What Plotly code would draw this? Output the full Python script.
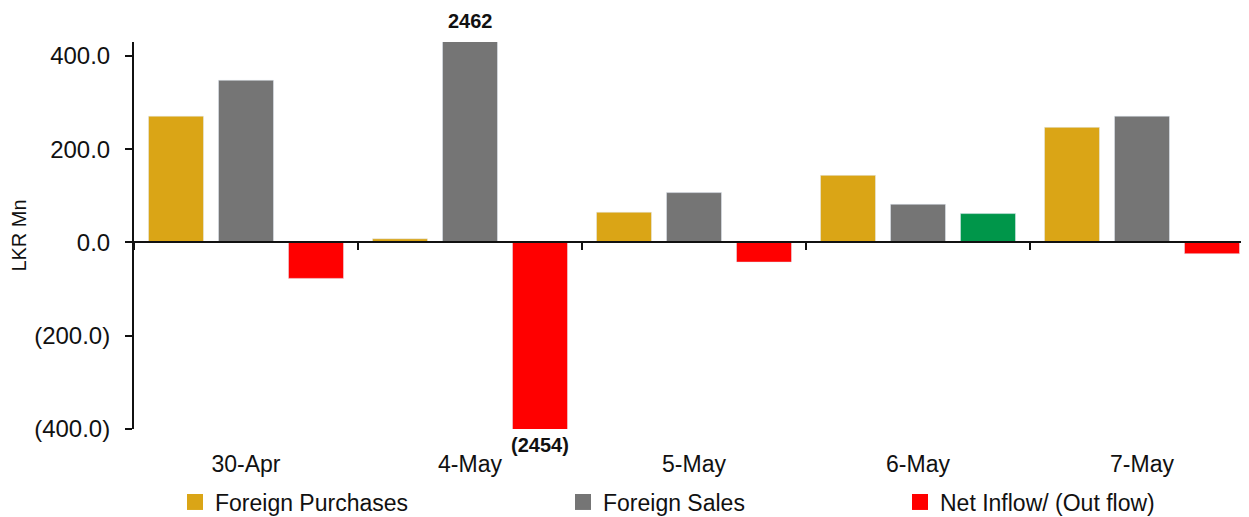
import plotly.graph_objects as go

dates = ["30-Apr", "4-May", "5-May", "6-May", "7-May"]
purchases = [271, 8, 65, 144, 247]
sales = [348, 2462, 107, 82, 271]
net = [-77, -2454, -42, 62, -24]

ytick_vals = [400, 200, 0, -200, -400]
ytick_text = ["400.0", "200.0", "0.0", "(200.0)", "(400.0)"]

C_PUR = "#DAA516"
C_SAL = "#757575"
C_NEG = "#FF0000"
C_POS = "#00964A"

Y_MIN, Y_MAX = -400, 430
OFF = 8  # page body margin
W, H = 1254 - OFF, 517 - OFF
ML, MR, MT = 134 - OFF, 0, 42 - OFF
PLOT_BOTTOM = 429 - OFF
MB = H - PLOT_BOTTOM
BARGAP = 0.0625
FONT = "Liberation Sans"

net_colors = [C_POS if v >= 0 else C_NEG for v in net]

fig = go.Figure()
fig.add_trace(go.Bar(x=dates, y=purchases, marker_color=C_PUR, showlegend=False, name="Foreign Purchases"))
fig.add_trace(go.Bar(x=dates, y=sales, marker_color=C_SAL, showlegend=False, name="Foreign Sales"))
fig.add_trace(go.Bar(x=dates, y=net, marker_color=net_colors, showlegend=False, name="Net Inflow/ (Out flow)"))

# zero-baseline axis helper (invisible)
fig.add_trace(go.Scatter(x=dates, y=[0] * len(dates), xaxis="x2", mode="markers",
                         marker=dict(opacity=0), showlegend=False, hoverinfo="skip"))

plot_w = W - ML - MR
plot_h = H - MT - MB
def px2paper(px):
    return (px - OFF - ML) / plot_w

legend_names = ["Foreign Purchases", "Foreign Sales", "Net Inflow/ (Out flow)"]
legend_colors = [C_PUR, C_SAL, C_NEG]
legend_ids = ["legend", "legend2", "legend3"]
legend_px = [175, 563, 900]
for nm, col, lid in zip(legend_names, legend_colors, legend_ids):
    fig.add_trace(go.Scatter(x=[None], y=[None], mode="markers", name=nm,
                             marker=dict(symbol="square", size=16, color=col),
                             legend=lid, showlegend=True))

legend_y = -((502 - OFF) - PLOT_BOTTOM) / plot_h
leg_common = dict(orientation="h", yanchor="middle", y=legend_y, xanchor="left",
                  font=dict(family=FONT, size=23, color="#111111"),
                  bgcolor="rgba(0,0,0,0)", itemwidth=30)
layout_legends = {}
for lid, lx in zip(legend_ids, legend_px):
    layout_legends[lid] = dict(leg_common, x=px2paper(lx))

slot = plot_w / len(dates) * (1 - BARGAP) / 3

fig.add_annotation(x=dates[1], y=Y_MAX, yref="y", xref="x", text=f"<b>{sales[1]:.0f}</b>",
                   showarrow=False, yanchor="bottom", yshift=8,
                   font=dict(family=FONT, size=20, color="#111111"))
fig.add_annotation(x=dates[1], y=Y_MIN, yref="y", xref="x", text=f"<b>({abs(net[1]):.0f})</b>",
                   showarrow=False, yanchor="top", yshift=-3, xshift=slot,
                   font=dict(family=FONT, size=20, color="#111111"))

zero_pos = (0 - Y_MIN) / (Y_MAX - Y_MIN)

fig.update_layout(
    width=W, height=H,
    margin=dict(l=ML, r=MR, t=MT, b=MB, autoexpand=False),
    paper_bgcolor="white", plot_bgcolor="white",
    barmode="group", bargap=BARGAP, bargroupgap=0.214,
    font=dict(family=FONT, color="#111111"),
    xaxis=dict(showline=False, ticks="", showgrid=False, zeroline=False,
               tickfont=dict(family=FONT, size=23, color="#111111"),
               ticklabelstandoff=19, categoryorder="array", categoryarray=dates),
    xaxis2=dict(overlaying="x", matches="x", anchor="free", position=zero_pos,
                showline=True, linecolor="#111111", linewidth=2,
                ticks="outside", tickson="boundaries", ticklen=7, tickwidth=2, tickcolor="#111111",
                showticklabels=False, showgrid=False, zeroline=False),
    yaxis=dict(range=[Y_MIN, Y_MAX], showline=True, linecolor="#111111", linewidth=2,
               ticks="outside", ticklen=7, tickwidth=2, tickcolor="#111111",
               tickvals=ytick_vals, ticktext=ytick_text, showgrid=False, zeroline=False,
               tickfont=dict(family=FONT, size=24, color="#111111"), ticklabelstandoff=10,
               title=dict(text="LKR Mn", font=dict(family=FONT, size=20, color="#111111"), standoff=2)),
    **layout_legends,
)

fig.write_html("out.html")
